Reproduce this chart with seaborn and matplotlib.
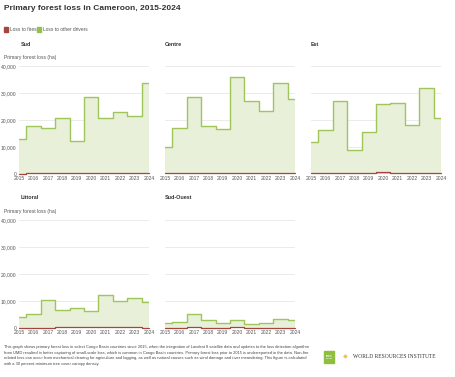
import numpy as np
import pandas as pd
import matplotlib
matplotlib.use('Agg')
import matplotlib.pyplot as plt
import seaborn as sns

years = [2015, 2016, 2017, 2018, 2019, 2020, 2021, 2022, 2023, 2024]
regions = ['Sud', 'Centre', 'Est', 'Littoral', 'Sud-Ouest']

# loss to other drivers (ha)
other_sud = [12800, 17500, 16900, 20500, 12200, 28500, 20500, 22500, 21000, 33300]
other_centre = [9900, 16800, 28200, 17700, 16300, 35800, 26900, 23000, 33500, 27700]
other_est = [11600, 16000, 26700, 8700, 15200, 25400, 26000, 17800, 31400, 20400]
other_littoral = [4000, 5100, 10200, 6600, 7100, 6000, 11900, 9700, 10700, 9400]
other_sudouest = [1700, 2200, 4900, 3000, 1600, 2400, 1400, 1700, 3200, 2800]

# loss to fires (ha)
fire_sud = [100, 300, 300, 200, 200, 200, 300, 300, 300, 400]
fire_centre = [200, 200, 200, 200, 200, 300, 200, 200, 300, 200]
fire_est = [200, 400, 300, 200, 200, 700, 300, 300, 500, 300]
fire_littoral = [100, 100, 100, 200, 300, 300, 300, 300, 300, 100]
fire_sudouest = [100, 100, 300, 100, 100, 500, 100, 100, 100, 100]

other = [other_sud, other_centre, other_est, other_littoral, other_sudouest]
fires = [fire_sud, fire_centre, fire_est, fire_littoral, fire_sudouest]

y_ticks = [0, 10000, 20000, 30000, 40000]
y_labels = ['0', '10,000', '20,000', '30,000', '40,000']

sns.set_theme(style='white')
plt.rcParams['font.family'] = ['Liberation Sans Narrow', 'Liberation Sans', 'DejaVu Sans']

green_line = '#a0c55a'
green_fill = '#e8f0d9'
red_line = '#a3473e'
red_fill = '#e3c6bd'
txt = '#333333'
tick_col = '#555555'

fig = plt.figure(figsize=(4.55, 3.77), dpi=100)
W, H = 455.0, 377.0

# axes boxes in pixels: (left, top, right, bottom)
boxes = [(19, 66, 149, 174), (165, 66, 295, 174), (311, 66, 441, 174),
         (19, 220, 149, 328), (165, 220, 295, 328)]

for i, reg in enumerate(regions):
    l, t, r, b = boxes[i]
    ax = fig.add_axes([l / W, 1 - b / H, (r - l) / W, (b - t) / H])
    df = pd.DataFrame({'year': years, 'fire': fires[i],
                       'total': np.array(fires[i]) + np.array(other[i])})
    ax.fill_between(df['year'], df['fire'], df['total'], step='mid',
                    color=green_fill, linewidth=0)
    ax.fill_between(df['year'], 0, df['fire'], step='mid', color=red_fill, linewidth=0)
    sns.lineplot(data=df, x='year', y='total', ax=ax, color=green_line,
                 linewidth=1.0, drawstyle='steps-mid')
    sns.lineplot(data=df, x='year', y='fire', ax=ax, color=red_line,
                 linewidth=0.9, drawstyle='steps-mid', clip_on=False)
    ax.set_xlim(2015, 2024)
    ax.set_ylim(0, 40000)
    ax.set_yticks(y_ticks)
    ax.yaxis.grid(True, color='#ebebeb', linewidth=0.7)
    ax.set_axisbelow(True)
    for s in ax.spines.values():
        s.set_visible(False)
    ax.set_xticks(years)
    ax.set_xticklabels([str(y) for y in years], fontsize=3.6, color=tick_col)
    if l == 19:
        ax.set_yticklabels(y_labels, fontsize=3.6, color=tick_col)
        ax.text(4 / W, 1 - (t - 9) / H, 'Primary forest loss (ha)',
                transform=fig.transFigure, fontsize=3.6, color=tick_col,
                va='center', ha='left')
    else:
        ax.set_yticklabels([])
    ax.tick_params(axis='both', length=0, pad=1.8)
    ax.set_xlabel('')
    ax.set_ylabel('')
    ax.text(l / W + (2 / W if l == 19 else 0), 1 - (t - 22) / H, reg,
            transform=fig.transFigure, fontsize=3.9, fontweight='bold',
            color=txt, va='center', ha='left')

# title and legend
fig.text(4 / W, 1 - 9 / H, 'Primary forest loss in Cameroon, 2015-2024',
         fontsize=6.0, fontweight='bold', color='#333333', va='center', ha='left')
fig.patches.append(plt.Rectangle((4 / W, 1 - 32 / H), 4 / W, 5 / H,
                                 transform=fig.transFigure, color=red_line))
fig.text(10 / W, 1 - 29.5 / H, 'Loss to fires', fontsize=3.5, color=tick_col,
         va='center', ha='left')
fig.patches.append(plt.Rectangle((37 / W, 1 - 32 / H), 4 / W, 5 / H,
                                 transform=fig.transFigure, color='#93c24a'))
fig.text(43 / W, 1 - 29.5 / H, 'Loss to other drivers', fontsize=3.5, color=tick_col,
         va='center', ha='left')

# footnote
note = ('This graph shows primary forest loss in select Congo Basin countries since 2015, when the integration of Landsat 8 satellite data and updates to the loss detection algorithm\n'
        'from UMD resulted in better capturing of small-scale loss, which is common in Congo Basin countries. Primary forest loss prior to 2015 is underreported in the data. Non-fire\n'
        'related loss can occur from mechanical clearing for agriculture and logging, as well as natural causes such as wind damage and river meandering. This figure is calculated\n'
        'with a 30 percent minimum tree cover canopy density.')
fig.text(4 / W, 1 - 345 / H, note, fontsize=2.85, color='#444444', va='top', ha='left',
         linespacing=1.55)

# logos
fig.patches.append(plt.Rectangle((324 / W, 1 - 363 / H), 10 / W, 12 / H,
                                 transform=fig.transFigure, color='#8fbf3f'))
fig.text(329 / W, 1 - 357 / H, 'GLOBAL\nFOREST\nWATCH', fontsize=1.2, color='white',
         fontweight='bold', ha='center', va='center', linespacing=1.1)
fig.text(345.5 / W, 1 - 357 / H, '\u25c6', fontsize=4.5, color='#f2c14e', ha='center',
         va='center', family=['DejaVu Sans'])
fig.text(353 / W, 1 - 357 / H, 'WORLD RESOURCES INSTITUTE', fontsize=4.0,
         color='#333333', ha='left', va='center', family=['Liberation Serif', 'DejaVu Serif'])

fig.savefig('out.png', dpi=100)
